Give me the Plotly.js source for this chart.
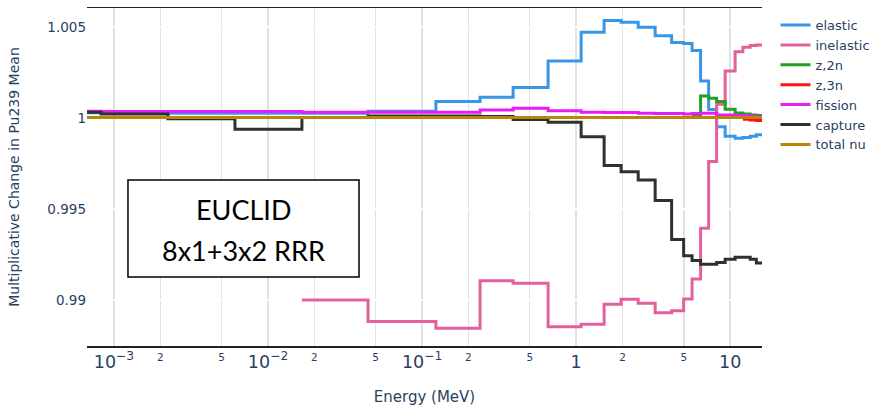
<!DOCTYPE html>
<html>
<head>
<meta charset="utf-8">
<script src="https://cdn.plot.ly/plotly-3.0.1.min.js"></script>
<style>html,body{margin:0;padding:0;background:#fff;}#chart{width:883px;height:412px;}</style>
</head>
<body>
<div id="chart"></div>
<script>
// Energy group boundaries (MeV)
const energyBounds = [6.68e-4, 8.24e-4, 2.24e-3, 6.1e-3, 0.0166, 0.0446, 0.123, 0.238, 0.39, 0.658,
  1.078, 1.52, 1.96, 2.53, 3.26, 4.17, 4.99, 5.66, 6.43, 7.25, 8.17, 9.28, 10.77, 12.1, 13.5, 14.8, 16.1];

// Multiplicative change per group (one value per group)
const elastic = [1.00028, 1.00028, 1.00026, 1.00026, 1.00026, 1.00037, 1.0009, 1.00114, 1.00167, 1.00313,
  1.00471, 1.00535, 1.00526, 1.00498, 1.00452, 1.00415, 1.00409, 1.00371, 1.00203, 1.00047,
  0.99952, 0.99899, 0.99888, 0.99893, 0.99899, 0.99907];
const inelastic = [null, null, null, null, 0.99000, 0.98881, 0.98845, 0.99106, 0.99092, 0.98853,
  0.98867, 0.98976, 0.99004, 0.98982, 0.98930, 0.98940, 0.99005, 0.99115, 0.99394, 0.99761,
  1.00075, 1.00258, 1.00364, 1.00388, 1.00398, 1.00401];
const z2n = [null, null, null, null, null, null, null, null, null, null,
  null, null, null, null, null, null, null, 1.00011, 1.00121, 1.00108,
  1.0009, 1.00048, 1.00027, 1.00022, 1.00016, 1.00014];
const z3n = [null, null, null, null, null, null, null, null, null, null,
  null, null, null, null, null, null, null, null, null, null,
  null, null, null, 0.99993, 0.99988, 0.99986];
const fission = [1.00037, 1.00036, 1.00036, 1.00035, 1.00031, 1.00031, 1.00031, 1.00044, 1.00053, 1.00040,
  1.00031, 1.00030, 1.00030, 1.00026, 1.00025, 1.00025, 1.00022, 1.00025, 1.00026, 1.00026,
  1.00016, 1.00016, 1.00014, 1.00012, 1.00009, 1.00007];
const capture = [1.00031, 1.00022, 0.99995, 0.99938, 1.00003, 1.00011, 1.00011, 1.00008, 0.99992, 0.99976,
  0.99896, 0.99738, 0.99705, 0.99659, 0.99547, 0.99332, 0.99243, 0.99217, 0.99196, 0.99196,
  0.99206, 0.99224, 0.99235, 0.99234, 0.99223, 0.99203];
const totalNu = [1.00002, 1.00002, 1.00002, 1.00002, 1.00002, 1.00002, 1.00002, 1.00002, 1.00002, 1.00002,
  1.00002, 1.00002, 1.00002, 1.00002, 1.00002, 1.00002, 1.00002, 1.00002, 1.00002, 1.00002,
  1.00002, 1.00002, 1.00002, 1.00002, 1.00002, 1.00002];

const seriesNames = ['elastic', 'inelastic', 'z,2n', 'z,3n', 'fission', 'capture', 'total nu'];
const seriesData = [elastic, inelastic, z2n, z3n, fission, capture, totalNu];
const seriesColors = ['#3797e6', '#e2609c', '#22a022', '#ff1010', '#ea1cf4', '#2b332f', '#b8860b'];

// step: value of group i held from bound i to bound i+1
function stepY(vals) { return vals.concat([vals[vals.length - 1]]); }

const traces = seriesNames.map((n, i) => ({
  type: 'scatter', mode: 'lines', name: n,
  x: energyBounds, y: stepY(seriesData[i]),
  line: {shape: 'hv', color: seriesColors[i], width: 3},
  connectgaps: false
}));

const layout = {
  width: 883, height: 412,
  margin: {l: 87, r: 121, t: 8, b: 66},
  paper_bgcolor: '#fff', plot_bgcolor: '#fff',
  font: {family: '"DejaVu Sans", Verdana, sans-serif', color: '#2a3f5f', size: 13},
  xaxis: {
    type: 'log', range: [Math.log10(6.68e-4), Math.log10(16.1)],
    dtick: 'D2', exponentformat: 'power', showgrid: true, gridcolor: '#e2e2e2', gridwidth: 1.5,
    showline: true, linecolor: '#222', linewidth: 1.5, mirror: true,
    ticks: '', zeroline: false, tickfont: {size: 14},
    title: {text: 'Energy (MeV)', font: {size: 15}, standoff: 20}
  },
  yaxis: {
    range: [0.98747, 1.00604], tickvals: [0.99, 0.995, 1, 1.005], ticktext: ['0.99', '0.995', '1', '1.005'],
    showgrid: true, gridcolor: '#ffffff', gridwidth: 1.5, zeroline: false, showline: false,
    ticks: '', tickfont: {size: 13.5},
    title: {text: 'Multiplicative Change in Pu239 Mean', font: {size: 14}, standoff: 24}
  },
  legend: {font: {size: 13}, x: 1.02, y: 0.994, tracegroupgap: 0},
  shapes: [{
    type: 'rect', xref: 'paper', yref: 'paper', x0: 0.0607, x1: 0.403, y0: 0.204, y1: 0.491,
    line: {color: '#000', width: 1.5}, fillcolor: '#fff', layer: 'above'
  }],
  annotations: [
    {xref: 'paper', yref: 'paper', x: 0.2319, y: 0.4024, text: 'EUCLID', showarrow: false,
     xanchor: 'center', yanchor: 'middle', font: {family: 'Lato, "Liberation Sans", sans-serif', size: 27, color: '#000'}},
    {xref: 'paper', yref: 'paper', x: 0.2319, y: 0.284, text: '8x1+3x2 RRR', showarrow: false,
     xanchor: 'center', yanchor: 'middle', font: {family: 'Lato, "Liberation Sans", sans-serif', size: 27, color: '#000'}}
  ]
};

Plotly.newPlot('chart', traces, layout, {displayModeBar: false, staticPlot: true});
</script>
</body>
</html>
